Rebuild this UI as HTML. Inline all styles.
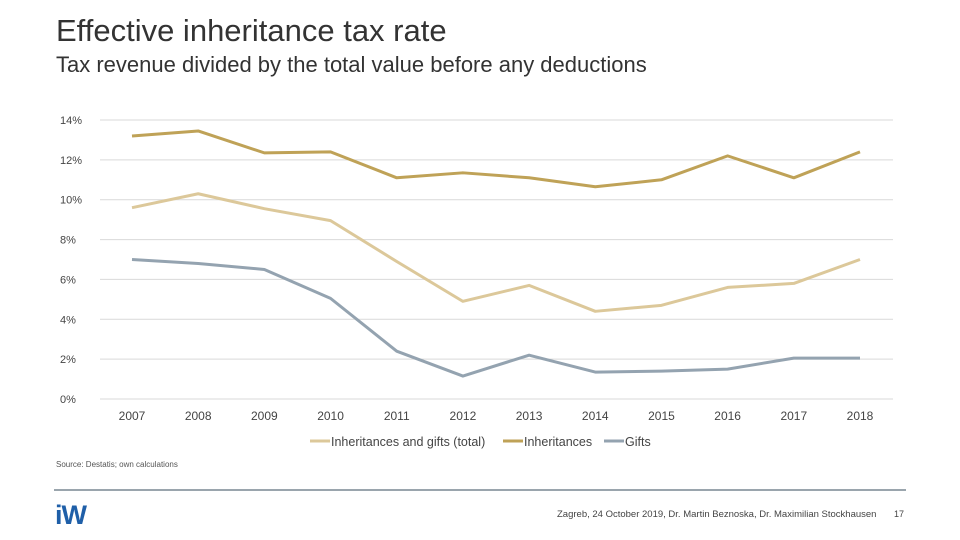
<!DOCTYPE html>
<html><head><meta charset="utf-8">
<style>
body{margin:0;width:960px;height:540px;background:#fff;font-family:"Liberation Sans",sans-serif;overflow:hidden;position:relative}
.t{position:absolute;color:#333;white-space:nowrap}
</style></head><body>
<div class="t" style="left:56px;top:13px;font-size:31px;color:#333">Effective inheritance tax rate</div>
<div class="t" style="left:56px;top:52px;font-size:22px;color:#333">Tax revenue divided by the total value before any deductions</div>
<svg id="chart" width="960" height="460" style="position:absolute;left:0;top:0"></svg>
<div class="t" style="left:56px;top:460px;font-size:8px;color:#555">Source: Destatis; own calculations</div>
<div style="position:absolute;left:54px;top:489px;width:852px;height:2px;background:#9aa5ad"></div>
<div class="t" style="left:55px;top:500px;font-size:27px;font-weight:bold;color:#1f5fa8;letter-spacing:-1px">iW</div>
<div class="t" style="left:557px;top:509px;font-size:9.5px;color:#444">Zagreb, 24 October 2019, Dr. Martin Beznoska, Dr. Maximilian Stockhausen</div>
<div class="t" style="left:894px;top:509px;font-size:9px;color:#444">17</div>
<script>
const years=["2007","2008","2009","2010","2011","2012","2013","2014","2015","2016","2017","2018"];
const totalVals=[9.6,10.3,9.55,8.95,6.9,4.9,5.7,4.4,4.7,5.6,5.8,7.0];
const inhVals=[13.2,13.45,12.35,12.4,11.1,11.35,11.1,10.65,11.0,12.2,11.1,12.4];
const giftVals=[7.0,6.8,6.5,5.05,2.4,1.15,2.2,1.35,1.4,1.5,2.05,2.05];
const yTicks=[0,2,4,6,8,10,12,14];
const svg=document.getElementById('chart');
const NS='http://www.w3.org/2000/svg';
const x0=132,x1=860,yb=399,yt=120;
const xs=i=>x0+i*(x1-x0)/(years.length-1);
const ys=v=>yb-(v/14)*(yb-yt);
function mk(t,a){const e=document.createElementNS(NS,t);for(const k in a)e.setAttribute(k,a[k]);svg.appendChild(e);return e;}
yTicks.forEach(v=>{
 const g=mk('line',{x1:100,x2:893,y1:ys(v),y2:ys(v),stroke:'#d9d9d9','stroke-width':1});
 
 
 const t=mk('text',{x:60,y:ys(v)+4,'font-size':11,fill:'#444'});t.textContent=v+'%';
 
 
});
years.forEach((y,i)=>{
 const t=mk('text',{x:xs(i),y:420,'font-size':12,fill:'#444','text-anchor':'middle'});t.textContent=y;
 
 
});
function series(vals,color,name){
 const p=mk('polyline',{points:vals.map((v,i)=>xs(i)+','+ys(v)).join(' '),fill:'none',stroke:color,'stroke-width':3,'stroke-linejoin':'round'});
 
 
}
series(totalVals,'#dcc89a','series-total');
series(inhVals,'#bfa257','series-inheritances');
series(giftVals,'#94a3b0','series-gifts');
const leg=[['Inheritances and gifts (total)','#dcc89a',310],['Inheritances','#bfa257',503],['Gifts','#94a3b0',604]];
leg.forEach(l=>{
 const ln=mk('line',{x1:l[2],x2:l[2]+20,y1:441,y2:441,stroke:l[1],'stroke-width':3});
 
 
 const t=mk('text',{x:l[2]+21,y:446,'font-size':12.5,fill:'#444'});t.textContent=l[0];
 
 
});
</script>
</body></html>
